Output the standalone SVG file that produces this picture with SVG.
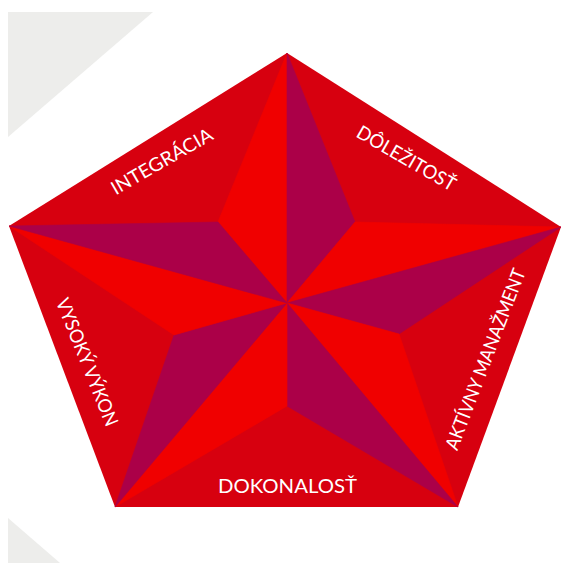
<svg xmlns="http://www.w3.org/2000/svg" width="561" height="563" viewBox="0 0 561 563">
  <style>
    .corner { fill: #ededeb; }
    .face { fill: #d7000f; }
    .lit { fill: #f00000; stroke: #f00000; stroke-width: 0.6; stroke-linejoin: round; }
    .shade { fill: #ab0048; stroke: #ab0048; stroke-width: 0.6; stroke-linejoin: round; }
    .label { font-family: Lato, "Open Sans", "Liberation Sans", sans-serif; font-size: 19px; fill: #ffffff; text-anchor: middle; }
  </style>

  <rect width="561" height="563" fill="#ffffff"/>

  <!-- light corner wedges -->
  <polygon class="corner" points="8,12 153,12 8,137"/>
  <polygon class="corner" points="8,518 60,563 8,563"/>

  <!-- pentagon base -->
  <g id="pentagon">
    <polygon class="face" points="287,53 561,227 458,507 115,507 9,226"/>
  </g>

  <!-- five-pointed star, each arm split into a lit and a shaded half -->
  <g id="arm-top">
    <polygon class="lit" points="287,303 287,53 218,222"/>
    <polygon class="shade" points="287,303 287,53 355,222"/>
  </g>
  <g id="arm-right">
    <polygon class="lit" points="287,303 561,227 355,222"/>
    <polygon class="shade" points="287,303 561,227 399,334"/>
  </g>
  <g id="arm-bottom-right">
    <polygon class="lit" points="287,303 458,507 399,334"/>
    <polygon class="shade" points="287,303 458,507 287,406"/>
  </g>
  <g id="arm-bottom-left">
    <polygon class="lit" points="287,303 115,507 287,406"/>
    <polygon class="shade" points="287,303 115,507 174,335"/>
  </g>
  <g id="arm-left">
    <polygon class="lit" points="287,303 9,226 174,335"/>
    <polygon class="shade" points="287,303 9,226 218,222"/>
  </g>

  <!-- side labels -->
  <g id="label-integracia" transform="translate(161.5,161) rotate(-30)">
    <text class="label" x="0" y="7" textLength="114" lengthAdjust="spacingAndGlyphs">INTEGRÁCIA</text>
  </g>
  <g id="label-dolezitost" transform="translate(406.5,158) rotate(30)">
    <text class="label" x="0" y="7" textLength="111" lengthAdjust="spacingAndGlyphs">DÔLEŽITOSŤ</text>
  </g>
  <g id="label-aktivny" transform="translate(485,359) rotate(-69)">
    <text class="label" x="0" y="7" textLength="192" lengthAdjust="spacingAndGlyphs">AKTÍVNY MANAŽMENT</text>
  </g>
  <g id="label-vysoky" transform="translate(87.5,362) rotate(68)">
    <text class="label" x="0" y="7" textLength="136" lengthAdjust="spacingAndGlyphs">VYSOKÝ VÝKON</text>
  </g>
  <g id="label-dokonalost">
    <text class="label" x="287.5" y="493" textLength="139" lengthAdjust="spacingAndGlyphs">DOKONALOSŤ</text>
  </g>
</svg>
